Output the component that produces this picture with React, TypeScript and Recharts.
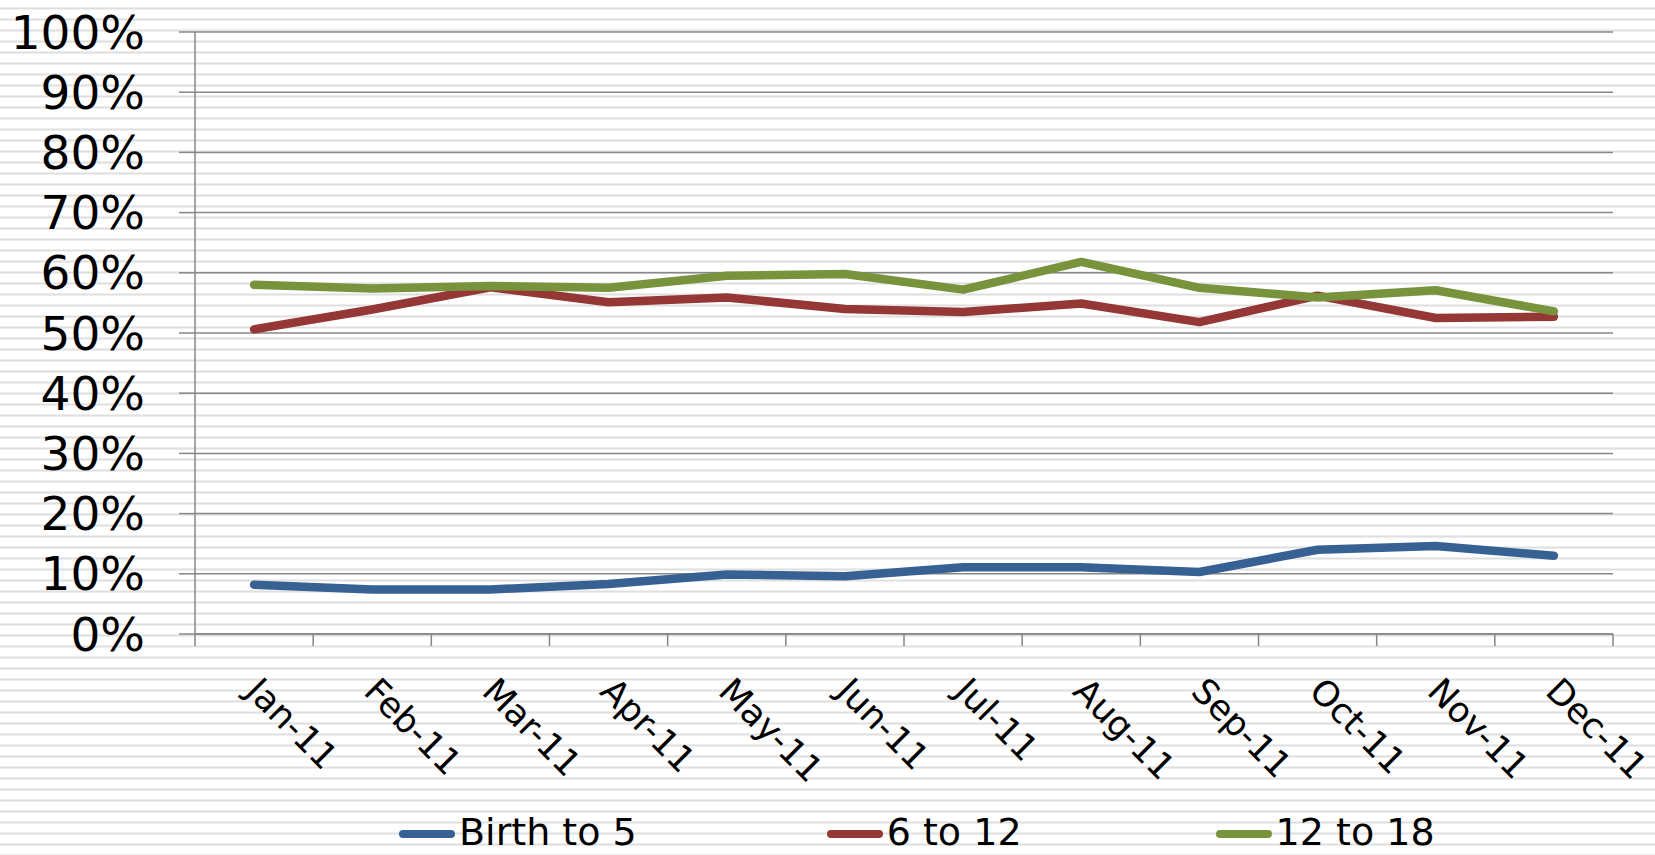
import { LineChart, Line, XAxis, YAxis, CartesianGrid, Legend } from "recharts";

const FONT = "'DejaVu Sans', Verdana, sans-serif";
const AXIS_GRAY = "#878787";

// monthly share per age group, in percent
const months = ["Jan-11", "Feb-11", "Mar-11", "Apr-11", "May-11", "Jun-11", "Jul-11", "Aug-11", "Sep-11", "Oct-11", "Nov-11", "Dec-11"];
const birthTo5 = [8.2, 7.4, 7.4, 8.3, 9.9, 9.6, 11.1, 11.1, 10.3, 14.0, 14.6, 13.0];
const sixTo12 = [50.6, 53.9, 57.6, 55.1, 55.9, 54.0, 53.5, 54.9, 51.8, 56.2, 52.5, 52.7];
const twelveTo18 = [58.0, 57.4, 57.8, 57.5, 59.5, 59.8, 57.2, 61.8, 57.5, 55.9, 57.1, 53.6];
const yTicks = [0, 10, 20, 30, 40, 50, 60, 70, 80, 90, 100];

const series = [
  { key: "birth", name: "Birth to 5", color: "#376193", gap: 0 },
  { key: "six", name: "6 to 12", color: "#953735", gap: 190 },
  { key: "twelve", name: "12 to 18", color: "#77933c", gap: 194 },
];

// points sit in the middle of each month band, tick marks on band edges
const data = months.map((m, i) => ({
  pos: i + 0.5,
  month: m,
  birth: birthTo5[i],
  six: sixTo12[i],
  twelve: twelveTo18[i],
}));
const xTicks = Array.from({ length: months.length * 2 + 1 }, (_, i) => i / 2);

const MonthTick = (props: any) => {
  const { x, y, payload } = props;
  const v = payload.value;
  if (Number.isInteger(v)) {
    return <line x1={x} x2={x} y1={y} y2={y + 12} stroke={AXIS_GRAY} strokeWidth={1.5} />;
  }
  return (
    <g transform={`translate(${x - 10},${y + 59}) rotate(45)`}>
      <text x={0} y={0} textAnchor='start' fontSize={35} fontFamily={FONT} fill='#000'>
        {months[Math.floor(v)]}
      </text>
    </g>
  );
};

const renderLegend = () => (
  <div
    style={{
      height: 40,
      display: "flex",
      alignItems: "flex-end",
      paddingLeft: 399,
      fontFamily: FONT,
      fontSize: 38,
      color: "#000",
    }}
  >
    {series.map((s) => (
      <div key={s.key} style={{ display: "flex", alignItems: "center", marginLeft: s.gap, height: 38 }}>
        <div style={{ width: 56, height: 8, borderRadius: 4, background: s.color, marginRight: 4, marginTop: 4 }} />
        <span style={{ display: "inline-block", height: 38, lineHeight: "38px" }}>{s.name}</span>
      </div>
    ))}
  </div>
);

export default function App() {
  return (
    <div
      style={{
        position: "absolute",
        left: 0,
        top: 0,
        width: 1655,
        height: 855,
        overflow: "hidden",
        background:
          "repeating-linear-gradient(to bottom, #ffffff 0px, #ffffff 6.5px, #eeeeee 7.5px, #dfdfdf 8.5px, #eeeeee 9.5px, #ffffff 10.5px, #ffffff 11px)",
      }}
    >
      <LineChart width={1655} height={855} data={data} margin={{ top: 32, right: 42, left: 0, bottom: 0 }}>
        <CartesianGrid vertical={false} stroke={AXIS_GRAY} strokeWidth={1.5} />
        <XAxis
          dataKey='pos'
          type='number'
          domain={[0, 12]}
          ticks={xTicks}
          interval={0}
          height={181}
          tickSize={0}
          tickMargin={0}
          tickLine={false}
          axisLine={{ stroke: AXIS_GRAY, strokeWidth: 1.5 }}
          tick={<MonthTick />}
        />
        <YAxis
          domain={[0, 100]}
          ticks={yTicks}
          interval={0}
          width={195}
          tickSize={16}
          tickMargin={34}
          tickFormatter={(v) => `${v}%`}
          tick={{ fontSize: 47, fill: "#000", fontFamily: FONT }}
          tickLine={{ stroke: AXIS_GRAY, strokeWidth: 1.5 }}
          axisLine={{ stroke: AXIS_GRAY, strokeWidth: 1.5 }}
        />
        <Legend
          verticalAlign='bottom'
          content={renderLegend}
          wrapperStyle={{ left: 0, width: 1655, bottom: 4 }}
        />
        {series.map((s) => (
          <Line
            key={s.key}
            type='linear'
            dataKey={s.key}
            name={s.name}
            stroke={s.color}
            strokeWidth={8.5}
            strokeLinecap='round'
            strokeLinejoin='round'
            dot={false}
            activeDot={false}
            isAnimationActive={false}
          />
        ))}
      </LineChart>
    </div>
  );
}
